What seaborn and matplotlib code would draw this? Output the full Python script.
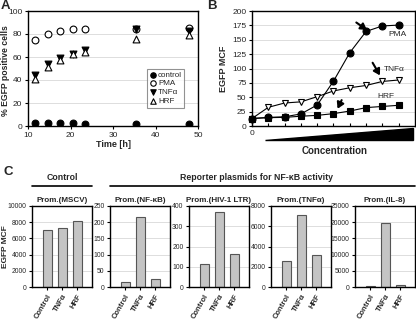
import numpy as np
import pandas as pd
import matplotlib
matplotlib.use('Agg')
import matplotlib.pyplot as plt
import seaborn as sns
from matplotlib.patches import Polygon
from matplotlib.lines import Line2D

sns.set_theme(style='white')
plt.rcParams['font.family'] = ['Liberation Sans', 'DejaVu Sans']

W, H = 416, 319

# Panel A: % EGFP positive cells over time
time_h = [11.7, 14.6, 17.5, 20.5, 23.4, 35.3, 47.9]
a_control = [3, 3, 3, 2.5, 2, 2, 2]
a_pma = [75, 80, 83, 84, 84, 84.5, 85.5]
a_tnf = [44, 54, 59.5, 63, 66, 84, 83]
a_hrf = [41, 51, 57, 62.5, 64.5, 75.5, 79]

# Panel B: EGFP MCF vs concentration
conc_steps = list(range(10))
b_pma = [13, 15, 16, 21, 36.5, 78, 127.5, 164.5, 174, 175.5]
b_tnf = [13, 32.5, 40, 42, 51, 61, 66.5, 70.5, 77.5, 80]
b_hrf = [13, 14.5, 15, 17, 18.5, 21.5, 26, 32, 34, 36]

# Panel C: reporter plasmids
treatments = ['Control', 'TNF\u03b1', 'HRF']
promoters = ['Prom.(MSCV)', 'Prom.(NF-\u03baB)', 'Prom.(HIV-1 LTR)',
             'Prom.(TNF\u03b1)', 'Prom.(IL-8)']
c_values = [[7000, 7300, 8100],
            [14, 215, 25],
            [115, 370, 165],
            [2600, 7100, 3200],
            [200, 19800, 700]]
c_ylims = [10000, 250, 400, 8000, 25000]
c_steps = [2000, 50, 100, 2000, 5000]

fig = plt.figure(figsize=(W / 100, H / 100), dpi=100)


def px_axes(l, t, r, b):
    return fig.add_axes([l / W, 1 - b / H, (r - l) / W, (b - t) / H])


def fig_text(x, y, s, **kw):
    fig.text(x / W, 1 - y / H, s, **kw)


def style_box(ax):
    for sp in ax.spines.values():
        sp.set_visible(True)
        sp.set_color('black')
        sp.set_linewidth(1.0)
    ax.tick_params(direction='out', length=2.5, width=0.8, color='black',
                   pad=1.5, left=True, bottom=True)
    ax.yaxis.grid(True, color='#dddddd', lw=0.7)
    ax.set_axisbelow(True)


# ---------- A ----------
axA = px_axes(28, 11, 198, 126)
series_a = [('control', a_control, 'o', 'black'),
            ('PMA', a_pma, 'o', 'white'),
            ('TNF\u03b1', a_tnf, 'v', 'black'),
            ('HRF', a_hrf, '^', 'white')]
for name, vals, mk, fc in series_a:
    sns.scatterplot(x=time_h, y=vals, marker=mk, color=fc, edgecolor='black',
                    linewidth=0.8, s=24, ax=axA, label=name, zorder=3)
axA.set_xlim(10, 50)
axA.set_ylim(0, 100)
axA.set_xticks([10, 20, 30, 40, 50])
axA.set_yticks([0, 20, 40, 60, 80, 100])
style_box(axA)
axA.tick_params(labelsize=6)
axA.set_xlabel('Time [h]', fontsize=6.5, fontweight='bold', labelpad=1)
axA.set_ylabel('% EGFP positive cells', fontsize=6.2, fontweight='bold')
axA.yaxis.set_label_coords(-0.103, 0.48)
leg = axA.legend(loc='lower right', bbox_to_anchor=(0.92, 0.16), fontsize=5.8,
                 frameon=True, fancybox=False, handletextpad=0.1,
                 borderpad=0.3, labelspacing=0.15, handlelength=1.0,
                 markerscale=0.8, borderaxespad=0)
leg.get_frame().set_edgecolor('#777777')
leg.get_frame().set_linewidth(0.8)
fig_text(1, 0, 'A', fontsize=9.5, fontweight='bold', va='top')

# ---------- B ----------
axB = px_axes(252, 11, 415, 126)
series_b = [('HRF', b_hrf, 's', 'black'),
            ('TNF\u03b1', b_tnf, 'v', 'white'),
            ('PMA', b_pma, 'o', 'black')]
for name, vals, mk, fc in series_b:
    sns.lineplot(x=conc_steps, y=vals, marker=mk, color='black', lw=0.8,
                 markersize=5, markerfacecolor=fc, markeredgecolor='black',
                 markeredgewidth=0.8, ax=axB, zorder=3, clip_on=False)
axB.set_xlim(0, 10)
axB.set_ylim(0, 200)
axB.set_yticks(range(0, 201, 25))
axB.set_xticks(conc_steps)
axB.set_xticklabels(['0'] + [''] * 9)
style_box(axB)
axB.tick_params(labelsize=6)
axB.tick_params(axis='x', direction='in', length=2.5, pad=3)
axB.set_ylabel('EGFP MCF', fontsize=6.5, fontweight='bold', labelpad=3)
axB.text(8.9, 159, 'PMA', fontsize=6, ha='center', va='center')
axB.text(8.7, 98, 'TNF\u03b1', fontsize=6, ha='center', va='center')
axB.text(8.2, 51, 'HRF', fontsize=6, ha='center', va='center')
arrow_kw = dict(arrowstyle='-|>,head_width=0.18,head_length=0.3',
                color='black', lw=1.5, shrinkA=0, shrinkB=0)
axB.annotate('', xy=(7.05, 167), xytext=(6.4, 180), arrowprops=arrow_kw)
axB.annotate('', xy=(7.85, 88), xytext=(7.4, 110), arrowprops=arrow_kw)
axB.annotate('', xy=(5.25, 30), xytext=(5.5, 45), arrowprops=arrow_kw)
fig_text(207, 0, 'B', fontsize=9.5, fontweight='bold', va='top')
wedge = Polygon([(265 / W, 1 - 140 / H), (413 / W, 1 - 140 / H),
                 (413 / W, 1 - 128 / H)], closed=True,
                transform=fig.transFigure, facecolor='black', edgecolor='black')
fig.patches.append(wedge)
fig_text(335, 151, 'Concentration', fontsize=7, fontweight='bold',
         ha='center', va='center')

# ---------- C ----------
fig_text(3, 166, 'C', fontsize=9.5, fontweight='bold', va='top')
fig_text(62, 177, 'Control', fontsize=6.3, fontweight='bold',
         ha='center', va='center')
fig_text(256, 177, 'Reporter plasmids for NF-\u03baB activity', fontsize=6.3,
         fontweight='bold', ha='center', va='center')
for x0, x1 in [(32, 92), (110, 415)]:
    fig.add_artist(Line2D([x0 / W, x1 / W], [1 - 186 / H, 1 - 186 / H],
                          color='black', lw=1.2, transform=fig.transFigure))

c_lefts = [32, 110, 189, 271, 355]
for i, (prom, vals, ymax, step, left) in enumerate(
        zip(promoters, c_values, c_ylims, c_steps, c_lefts)):
    ax = px_axes(left, 206, left + 60, 287)
    df = pd.DataFrame({'treatment': treatments, 'value': vals})
    sns.barplot(data=df, x='treatment', y='value', color='#c4c4c4',
                edgecolor='#555555', linewidth=0.8, width=0.6,
                saturation=1, ax=ax)
    ax.set_xlim(-1, 3)
    ax.set_ylim(0, ymax)
    ax.set_yticks(np.arange(0, ymax + 1, step))
    style_box(ax)
    ax.tick_params(axis='y', labelsize=4.9)
    ax.tick_params(axis='x', labelsize=5.5)
    for lab in ax.get_xticklabels():
        lab.set_rotation(60)
        lab.set_ha('right')
        lab.set_rotation_mode('anchor')
        lab.set_fontweight('bold')
    ax.set_xlabel('')
    ax.set_title(prom, fontsize=5.8, fontweight='bold', pad=3)
    if i == 0:
        ax.set_ylabel('EGFP MCF', fontsize=6, fontweight='bold')
        ax.yaxis.set_label_coords(-0.375, 0.5)
    else:
        ax.set_ylabel('')

fig.savefig('out.png', dpi=100)
